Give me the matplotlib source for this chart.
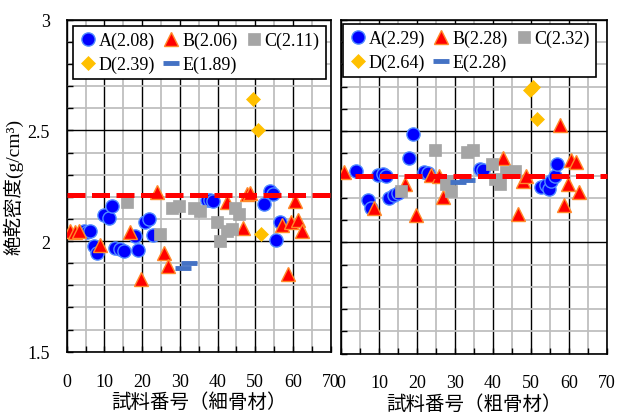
import matplotlib
matplotlib.use('Agg')
from matplotlib import pyplot as plt
from matplotlib.ticker import MultipleLocator, FuncFormatter
from matplotlib.transforms import Bbox

plt.rcParams['font.family'] = ['Liberation Serif', 'Noto Sans CJK JP']

# fine aggregate (left panel)
fine_A_x = [4.5, 5.5, 6.3, 7.2, 8.0, 9.8, 11.1, 12.0, 12.9, 14.2, 15.1, 18.2, 18.9, 20.8, 21.9, 22.8,
            37.1, 38.0, 38.9, 52.4, 53.9, 54.8, 55.5, 56.6]
fine_A_y = [2.047, 2.042, 2.047, 1.979, 1.946, 2.118, 2.103, 2.157, 1.967, 1.964, 1.956, 2.021, 1.960,
            2.087, 2.100, 2.027, 2.187, 2.187, 2.182, 2.167, 2.228, 2.213, 2.006, 2.087]
fine_B_x = [1.0, 2.3, 3.2, 8.9, 16.9, 19.8, 24.0, 25.7, 26.9, 42.4, 46.8, 47.7, 48.6, 57.2, 58.6, 59.5,
            60.4, 61.4, 62.3]
fine_B_y = [2.047, 2.042, 2.047, 1.984, 2.040, 1.829, 2.220, 1.946, 1.886, 2.178, 2.058, 2.213, 2.217,
            2.072, 1.851, 2.084, 2.182, 2.096, 2.047]
fine_C_x = [16.0, 24.8, 27.9, 29.7, 33.7, 35.4, 39.8, 40.7, 42.4, 43.8, 44.6, 45.6]
fine_C_y = [2.178, 2.032, 2.148, 2.157, 2.148, 2.137, 2.087, 2.002, 2.047, 2.054, 2.148, 2.122]
fine_D_x = [49.5, 50.6, 51.5]
fine_D_y = [2.64, 2.50, 2.03]
fine_E_x = [30.9, 32.5]
fine_E_y = [1.878, 1.900]
fine_labels = ['A(2.08)', 'B(2.06)', 'C(2.11)', 'D(2.39)', 'E(1.89)']
fine_ref = 2.21

# coarse aggregate (right panel)
coarse_A_x = [3.9, 7.0, 7.9, 9.7, 11.0, 11.8, 12.7, 14.0, 14.9, 18.0, 18.9, 21.9, 22.8, 36.6, 37.4,
              52.8, 54.1, 54.8, 55.4, 56.3, 56.9]
coarse_A_y = [2.322, 2.192, 2.153, 2.303, 2.308, 2.297, 2.198, 2.213, 2.222, 2.378, 2.488, 2.318, 2.312,
              2.330, 2.327, 2.248, 2.258, 2.240, 2.277, 2.300, 2.353]
coarse_B_x = [0.9, 8.8, 16.9, 19.8, 23.7, 25.9, 26.8, 42.7, 46.7, 48.0, 48.7, 57.8, 58.8, 59.7, 60.7,
              61.8, 62.8]
coarse_B_y = [2.315, 2.153, 2.263, 2.123, 2.303, 2.297, 2.204, 2.378, 2.127, 2.277, 2.300, 2.525, 2.166,
              2.260, 2.372, 2.361, 2.226]
coarse_C_x = [15.8, 24.8, 27.6, 28.2, 28.9, 33.3, 34.7, 39.7, 40.5, 41.8, 43.6, 45.8]
coarse_C_y = [2.232, 2.413, 2.263, 2.277, 2.232, 2.405, 2.413, 2.353, 2.286, 2.263, 2.315, 2.322]
coarse_D_x = [49.7, 50.6, 51.7]
coarse_D_y = [2.683, 2.699, 2.552]
coarse_E_x = [30.7, 33.3]
coarse_E_y = [2.270, 2.281]
coarse_labels = ['A(2.29)', 'B(2.28)', 'C(2.32)', 'D(2.64)', 'E(2.28)']
coarse_ref = 2.30

series_style = [
    dict(marker='o', ms=9.5, mfc='#0000FF', mec='#4F8BFF', mew=1.0),
    dict(marker='^', ms=9.5, mfc='#FF0000', mec='#FF8A2A', mew=1.0),
    dict(marker='s', ms=8.5, mfc='#A5A5A5', mec='#A5A5A5', mew=0.5),
    dict(marker='D', ms=7.0, mfc='#FFC000', mec='#FFC000', mew=0.5),
    dict(marker='_', ms=12, mfc='#4472C4', mec='#4472C4', mew=3.5),
]


def setup_axes(ax, xlabel, show_ylabels):
    ax.set_xlim(0, 70)
    ax.set_ylim(1.5, 3.0)
    ax.xaxis.set_major_locator(MultipleLocator(10))
    ax.xaxis.set_minor_locator(MultipleLocator(5))
    ax.yaxis.set_major_locator(MultipleLocator(0.5))
    ax.yaxis.set_minor_locator(MultipleLocator(0.1))
    ax.grid(which='minor', color='#BFBFBF', lw=1.3, zorder=0)
    ax.grid(which='major', color='black', lw=1.0, zorder=0.5)
    ax.set_axisbelow(True)
    ax.tick_params(which='both', direction='in', length=4, width=1.0, color='black',
                   labelsize=13, pad=15)
    ax.tick_params(axis='y', pad=12)
    ax.yaxis.set_major_formatter(FuncFormatter(lambda v, p: '{:g}'.format(v)))
    if not show_ylabels:
        ax.tick_params(axis='y', labelleft=False)
    for s in ax.spines.values():
        s.set_color('black')
        s.set_linewidth(1.2)
    ax.set_xlabel(xlabel, fontsize=14, family=['Noto Sans CJK JP'], labelpad=1)


def draw_panel(ax, xs, ys, labels, ref, ref_x0, legend_anchor):
    handles = []
    for x, y, st, lab in zip(xs, ys, series_style, labels):
        h, = ax.plot(x, y, ls='none', label=lab, zorder=3, **st)
        handles.append(h)
    ax.plot([ref_x0, 70], [ref, ref], color='#FF0000', lw=3.6, ls=(0, (3.6, 1.3)),
            zorder=4, clip_on=False)
    # legend fills column by column: reorder so rows read A B C / D E
    order = [0, 3, 1, 4, 2]
    leg = ax.legend(handles=[handles[i] for i in order], ncol=3, loc='upper left',
                    bbox_to_anchor=legend_anchor, borderaxespad=0, fontsize=13,
                    handlelength=0.9, handletextpad=0.15, columnspacing=0.45,
                    labelspacing=0.35, borderpad=0.35,
                    fancybox=False, framealpha=1, edgecolor='black')
    leg.get_frame().set_linewidth(1.2)
    leg.set_zorder(5)


fig = plt.figure(figsize=(6.19, 4.14), dpi=100)
ax1 = fig.add_axes([0.1078, 0.148, 0.4265, 0.802])
ax2 = fig.add_axes([0.5509, 0.1437, 0.4292, 0.806])

setup_axes(ax1, '試料番号（細骨材）', True)
setup_axes(ax2, '試料番号（粗骨材）', False)

draw_panel(ax1, [fine_A_x, fine_B_x, fine_C_x, fine_D_x, fine_E_x],
           [fine_A_y, fine_B_y, fine_C_y, fine_D_y, fine_E_y],
           fine_labels, fine_ref, 0, (0.025, 0.982))
draw_panel(ax2, [coarse_A_x, coarse_B_x, coarse_C_x, coarse_D_x, coarse_E_x],
           [coarse_A_y, coarse_B_y, coarse_C_y, coarse_D_y, coarse_E_y],
           coarse_labels, coarse_ref, 3.7, (0.009, 0.988))

ax1.set_ylabel('絶乾密度(g/cm³)', fontsize=14)
ax1.yaxis.set_label_coords(-0.165, 0.5)

# the right panel's "0" sits under the left panel's "70"; only its right half shows
fig.canvas.draw()
zero_label = ax2.get_xticklabels()[0]
zero_label.set_clip_box(Bbox([[340, 0], [619, 414]]))
zero_label.set_clip_on(True)

fig.savefig('out.png', dpi=100)
